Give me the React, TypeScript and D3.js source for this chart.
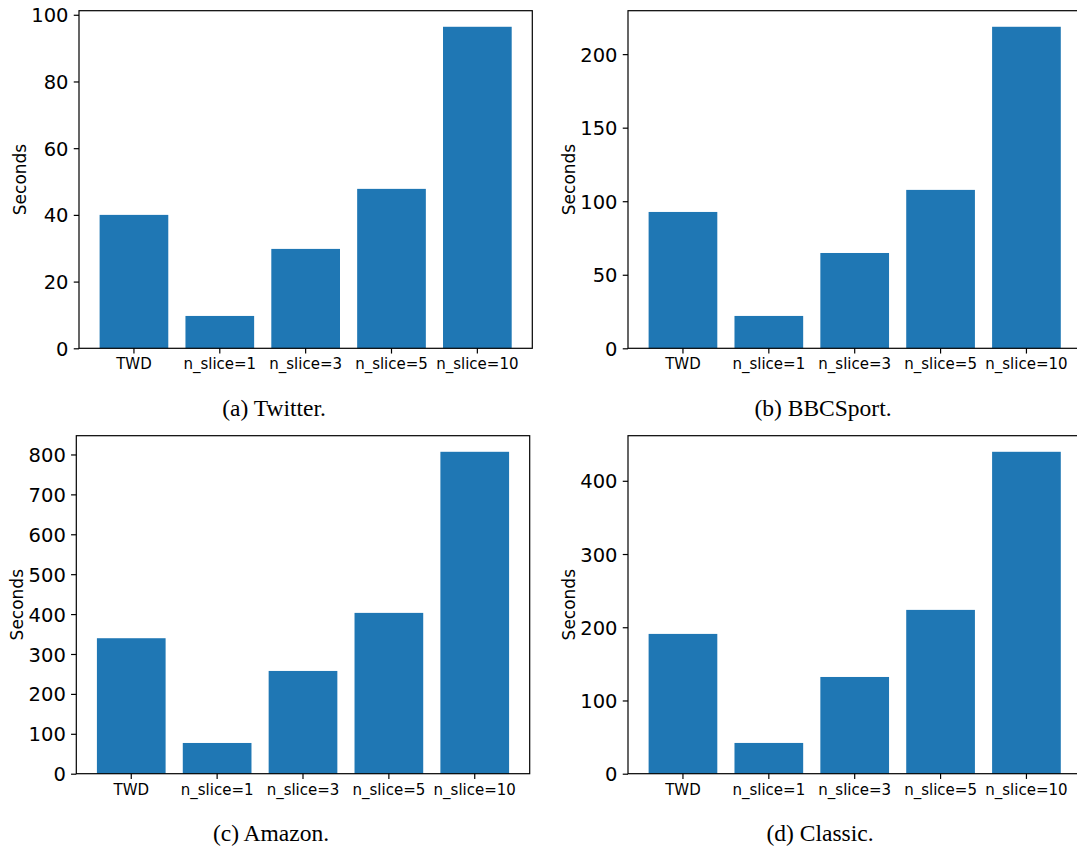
import React, { useEffect, useRef } from 'react';
import * as d3 from 'd3';

const categories = ['TWD', 'n_slice=1', 'n_slice=3', 'n_slice=5', 'n_slice=10'];

const twitterValues = [40, 9.7, 29.8, 47.8, 96.4];
const bbcsportValues = [92.7, 22, 64.8, 107.7, 218.6];
const amazonValues = [339.5, 77, 257.5, 403, 806.7];
const classicValues = [190.9, 42, 132.1, 223.7, 439.6];

const twitterTicks = [0, 20, 40, 60, 80, 100];
const bbcsportTicks = [0, 50, 100, 150, 200];
const amazonTicks = [0, 100, 200, 300, 400, 500, 600, 700, 800];
const classicTicks = [0, 100, 200, 300, 400];

const captions = ['(a) Twitter.', '(b) BBCSport.', '(c) Amazon.', '(d) Classic.'];

const width = 1077;
const height = 847;

// axes boxes in pixels, plus where the caption is centred
const panels = [
	{ values: twitterValues, ticks: twitterTicks, l: 79, t: 10.7, r: 532.3, b: 348.3, cx: 274, cy: 416 },
	{ values: bbcsportValues, ticks: bbcsportTicks, l: 628, t: 10.7, r: 1081.4, b: 348.3, cx: 823, cy: 416 },
	{ values: amazonValues, ticks: amazonTicks, l: 76.3, t: 435.7, r: 529.7, b: 773.7, cx: 271, cy: 841 },
	{ values: classicValues, ticks: classicTicks, l: 628, t: 435.7, r: 1081.4, b: 773.7, cx: 820, cy: 841 },
];

const sans = 'DejaVu Sans, sans-serif';
const serif = 'Liberation Serif, Times New Roman, serif';

const App = () => {
	const ref = useRef(null);

	useEffect(() => {
		if (!ref.current) return;
		const svg = d3.select(ref.current);
		svg.selectAll('*').remove();

		panels.forEach((p, i) => {
			const pw = p.r - p.l;
			const ph = p.b - p.t;

			const x = d3
				.scaleBand()
				.domain(categories)
				.range([0, pw])
				.paddingInner(0.2)
				.paddingOuter(0.24);

			// matplotlib leaves 5% headroom over the tallest bar
			const y = d3
				.scaleLinear()
				.domain([0, d3.max(p.values) * 1.05])
				.range([ph, 0]);

			const g = svg.append('g').attr('transform', `translate(${p.l},${p.t})`);

			g.selectAll('rect.bar')
				.data(p.values)
				.join('rect')
				.attr('class', 'bar')
				.attr('x', (d, j) => x(categories[j]))
				.attr('width', x.bandwidth())
				.attr('y', d => y(d))
				.attr('height', d => ph - y(d))
				.attr('fill', '#1f77b4');

			const yAxis = g
				.append('g')
				.call(d3.axisLeft(y).tickValues(p.ticks).tickSize(5.25).tickPadding(5.25).tickSizeOuter(0));
			yAxis.select('.domain').remove();
			yAxis.selectAll('line').attr('stroke', '#000').attr('stroke-width', 1.2);
			yAxis
				.selectAll('text')
				.attr('font-family', sans)
				.attr('font-size', 19.5)
				.attr('dy', '0.36em')
				.attr('fill', '#000');

			const xAxis = g
				.append('g')
				.attr('transform', `translate(0,${ph})`)
				.call(d3.axisBottom(x).tickSize(5.25).tickPadding(5.25).tickSizeOuter(0));
			xAxis.select('.domain').remove();
			xAxis.selectAll('line').attr('stroke', '#000').attr('stroke-width', 1.2);
			xAxis
				.selectAll('text')
				.attr('font-family', sans)
				.attr('font-size', 15)
				.attr('fill', '#000');

			g.append('rect')
				.attr('width', pw)
				.attr('height', ph)
				.attr('fill', 'none')
				.attr('stroke', '#000')
				.attr('stroke-width', 1.2);

			g.append('text')
				.attr('transform', `translate(-53,${ph / 2}) rotate(-90)`)
				.attr('text-anchor', 'middle')
				.attr('font-family', sans)
				.attr('font-size', 17)
				.attr('fill', '#000')
				.text('Seconds');

			svg.append('text')
				.attr('x', p.cx)
				.attr('y', p.cy)
				.attr('text-anchor', 'middle')
				.attr('font-family', serif)
				.attr('font-size', 23.5)
				.attr('fill', '#000')
				.text(captions[i]);
		});
	}, []);

	return (
		<svg
			ref={ref}
			width={width}
			height={height}
			style={{ position: 'absolute', left: 0, top: 0, background: '#fff' }}
		/>
	);
};

export default App;
